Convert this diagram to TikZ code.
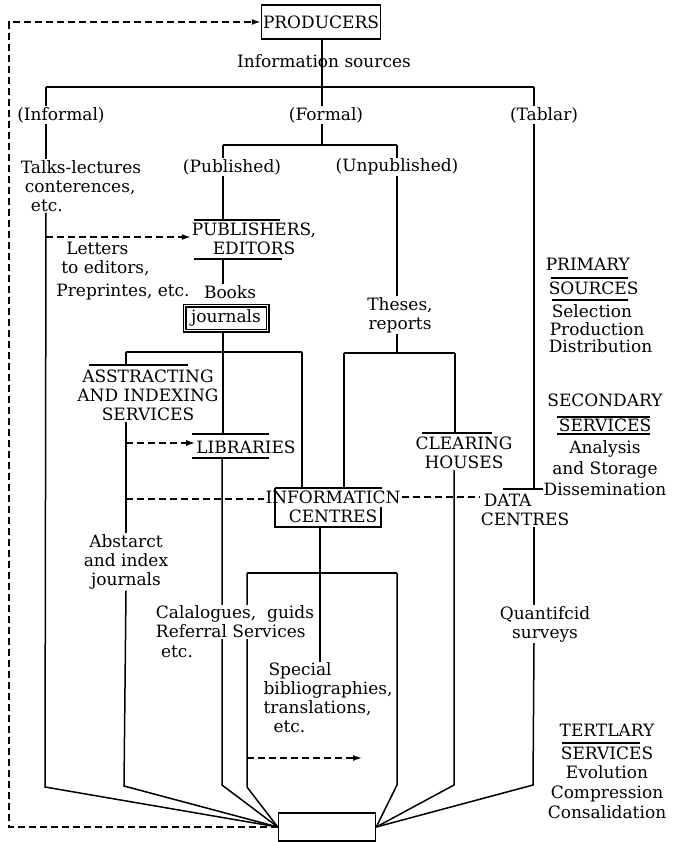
\documentclass[tikz,border=0pt]{standalone}
\usepackage{fontspec}
\setmainfont{DejaVu Serif}
\usetikzlibrary{arrows.meta,calc}
\begin{document}
\begin{tikzpicture}[x=1pt,y=-1pt,
  txt/.style={font=\fontsize{17}{19}\selectfont, inner sep=1pt, align=center},
  ln/.style={line width=1.5pt},
  dsh/.style={line width=1.5pt, dash pattern=on 7pt off 4pt},
  tip/.style={-{Latex[length=9pt,width=6pt]}},
  ]
\useasboundingbox (0,0) rectangle (672,842);

% reference columns
\coordinate (xInf) at (46,0);
\coordinate (xMid) at (322,0);
\coordinate (xTab) at (534,0);
\coordinate (xPub) at (223,0);
\coordinate (xUnp) at (397,0);
\coordinate (xAbs) at (126,0);
\coordinate (xClr) at (454,0);

% top
\node[txt, draw, ln, minimum width=119pt, minimum height=34pt] (prod) at (321,22) {PRODUCERS};
\node[txt] (src) at (324,61) {Information sources};
\coordinate (barL) at (46,87); \coordinate (barM) at (322,87); \coordinate (barR) at (534,87);
\draw[ln] (prod.south -| barM) -- (barM);
\draw[ln] (barL) -- (barR);

\node[txt] (inf) at (61,115) {(Informal)};
\node[txt] (frm) at (326,115) {(Formal)};
\node[txt] (tab) at (544,115) {(Tablar)};
\draw[ln] (barL) -- (inf.north -| barL);
\draw[ln] (barM) -- (frm.north -| barM);
\draw[ln] (barR) -- (tab.north -| barR);

\node[txt, align=left] (talks) at (81,186) {Talks-lectures\\\hspace*{4pt}conterences,\\\hspace*{10pt}etc.};
\draw[ln] (inf.south -| barL) -- (talks.north -| barL);

% formal branch
\coordinate (fM) at (322,145); \coordinate (fL) at (223,145); \coordinate (fR) at (397,145);
\draw[ln] (frm.south -| barM) -- (fM);
\draw[ln] (fL) -- (fR);
\node[txt] (publ) at (232,167) {(Published)};
\node[txt] (unpub) at (397,167) {(Unpublished)};
\draw[ln] (fL) -- (publ.north -| fL);
\draw[ln] (fR) -- (unpub.north -| fR);

\node[txt] (pubed) at (254,239) {PUBLISHERS,\\EDITORS};
\coordinate (pubTop) at (223,220); \coordinate (pubBot) at (223,259);
\draw[ln] (194,220) -- (280,220);
\draw[ln] (194,259) -- (282,259);
\draw[ln] (publ.south -| xPub) -- (pubTop);

\node[txt] (books) at (230,292) {Books};
\draw[ln] (pubBot) -- (books.north -| xPub);
\node[txt, draw, line width=1.1pt, double, double distance=1.8pt, minimum width=83pt, minimum height=25pt] (jour) at (226,318) {journals};

\coordinate (lt) at (46,237);
\draw[dsh,tip] (lt) -- (pubed.west |- lt);
\node[txt, align=left] (letters) at (123,271) {\hspace*{10pt}Letters\\\hspace*{5pt}to editors,\\[4pt]Preprintes,\ etc.};

% abstracting / libraries
\coordinate (aL) at (126,352); \coordinate (aR) at (302,352);
\coordinate (libTop) at (223,434); \coordinate (libBot) at (222,458);
\draw[ln] (jour.south -| xPub) -- (libTop);
\draw[ln] (aL) -- (aR);
\node[txt] (abs) at (148,395) {ASSTRACTING\\AND INDEXING\\SERVICES};
\coordinate (absTop) at (126,365);
\draw[ln] (89,365) -- (188,365);
\draw[ln] (aL) -- (absTop);

\node[txt] (lib) at (246,447) {LIBRARIES};
\draw[ln] (192,434) -- (269,434);
\draw[ln] (192,458) -- (269,458);
\node[txt] (abst) at (126,562) {Abstarct\\and index\\journals};
\draw[ln] (abs.south -| xAbs) -- (abst.north -| xAbs);
\coordinate (d1) at (126,443);
\draw[dsh,tip] (d1) -- (lib.west |- d1);

% information centres
\node[txt] (info) at (333,507) {INFORMATICN\\CENTRES};
\draw[ln] (275,488) -- (382,488);
\draw[ln] (275,488) -- (275,527) -- (381,527) -- (381,507);
\coordinate (d2) at (126,499);
\draw[dsh] (d2) -- (info.west |- d2);
\coordinate (iT1) at (302,488);
\draw[ln] (aR) -- (iT1);

% unpublished branch
\node[txt] (thes) at (400,315) {Theses,\\reports};
\draw[ln] (unpub.south -| xUnp) -- (thes.north -| xUnp);
\coordinate (tL) at (344,353); \coordinate (tM) at (397,353); \coordinate (tR) at (455,353);
\coordinate (iT2) at (344,488); \coordinate (clrTop) at (455,433);
\draw[ln] (thes.south -| xUnp) -- (tM);
\draw[ln] (tL) -- (tR);
\draw[ln] (tL) -- (iT2);
\draw[ln] (tR) -- (clrTop);
\node[txt] (clr) at (464,453) {CLEARING\\HOUSES};
\draw[ln] (422,433) -- (492,433);

% data centres
\node[txt, align=left] (data) at (525,510) {\hspace*{3pt}DATA\\CENTRES};
\coordinate (dataTop) at (534,489);
\draw[ln] (503,489) -- (543,489);
\draw[ln] (tab.south -| xTab) -- (dataTop);
\coordinate (d3) at (0,497);
\draw[dsh] (info.east |- d3) -- (data.west |- d3);

\node[txt] (quant) at (545,624) {Quantifcid\\surveys};
\draw[ln] (data.south -| xTab) -- (quant.north -| xTab);

% below information centres
\coordinate (iB) at (320,527);
\coordinate (cL) at (247,573); \coordinate (cM) at (320,573); \coordinate (cR) at (397,573);
\draw[ln] (iB) -- (cM);
\draw[ln] (cL) -- (cR);
\node[txt, align=left] (spec) at (328,698) {\hspace*{5pt}Special\\bibliographies,\\translations,\\\hspace*{10pt}etc.};
\draw[ln] (cM) -- (spec.north -| cM);

% bottom box
\node[draw, ln, minimum width=97pt, minimum height=28pt, inner sep=0pt] (bot) at (327,827) {};

\draw[ln] (talks.south -| xInf) -- (45,787) -- (bot.west);
\draw[ln] (abst.south -| xAbs) -- (124,786) -- (bot.west);
\draw[ln] (libBot) -- (222,785) -- (bot.west);
\draw[ln] (cL) -- (247,787) -- (bot.west);
\draw[ln] (cR) -- (397,785) -- (bot.east);
\draw[ln] (clr.south -| xClr) -- (454,785) -- (bot.east);
\draw[ln] (quant.south -| xTab) -- (533,785) -- (bot.east);

\coordinate (s1) at (247,758); \coordinate (s2) at (362,758);
\draw[dsh,tip] (s1) -- (s2);

\coordinate (c1) at (9,827); \coordinate (c2) at (9,22);
\draw[dsh,tip] (bot.west) -- (c1) -- (c2) -- (prod.west);

% catalogues label (over the lines)
\node[txt, align=left, fill=white] (cal) at (235,622) {Calalogues,\ \ guids\\Referral Services};
\node[txt] (calEtc) at (177,652) {etc.};

% right-hand labels
\node[txt, align=left] (prim) at (599,305) {PRIMARY\\[5pt]\hspace*{3pt}SOURCES\\[4pt]\hspace*{6pt}Selection\\[-1pt]\hspace*{4pt}Production\\[-2pt]\hspace*{3pt}Distribution};
\draw[ln] (551,278) -- (628,278);
\draw[ln] (552,300) -- (628,300);

\node[txt] (sec) at (605,445) {SECONDARY\\[6pt]SERVICES\\[3pt]Analysis\\[2pt]and Storage\\[2pt]Dissemination};
\draw[ln] (557,417) -- (650,417);
\draw[line width=2.2pt] (557,434) -- (650,434);

\node[txt] (ter) at (607,771) {TERTLARY\\[4pt]SERVICES\\Evolution\\[1pt]Compression\\[1pt]Consalidation};
\draw[ln] (562,743) -- (640,743);
\end{tikzpicture}
\end{document}
